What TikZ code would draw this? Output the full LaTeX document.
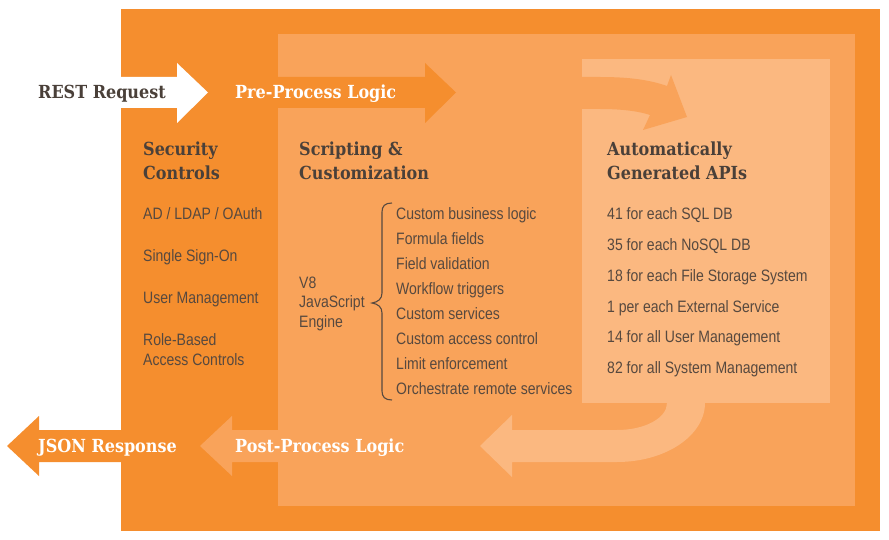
\documentclass[tikz,border=0pt]{standalone}
\usepackage{fontspec}
\setmainfont{Liberation Sans}
\newfontfamily\headfont[FakeStretch=0.89]{DejaVu Serif}
\newfontfamily\bodyfont[FakeStretch=0.85]{Liberation Sans}
\definecolor{outerc}{HTML}{F58E2E}
\definecolor{midc}{HTML}{F9A35A}
\definecolor{innerc}{HTML}{FBB880}
\definecolor{headc}{HTML}{4A4039}
\definecolor{bodyc}{HTML}{57493F}
\tikzset{
  headtxt/.style={font=\headfont\bfseries\fontsize{18}{22}\selectfont, text=headc, anchor=base west, inner sep=0pt},
  arrowtxt/.style={font=\headfont\bfseries\fontsize{18}{22}\selectfont, text=white, anchor=base west, inner sep=0pt},
  bodytxt/.style={font=\bodyfont\fontsize{16.5}{20}\selectfont, text=bodyc, anchor=base west, inner sep=0pt},
}
\begin{document}
\begin{tikzpicture}[x=1pt,y=-1pt]
\useasboundingbox (0,0) rectangle (889,540);
% boxes
\fill[outerc] (121,9) rectangle (880,531);
\fill[midc] (278,34) rectangle (855,506);
\fill[innerc] (582,59) rectangle (830,403);
% REST request arrow
\fill[white] (100,77) -- (177,77) -- (177,63) -- (208,92.5) -- (177,123) -- (177,108) -- (100,108) -- cycle;
% pre-process arrow
\fill[outerc] (270,77) -- (425,77) -- (425,63) -- (456,92.5) -- (425,123) -- (425,108) -- (270,108) -- cycle;
% top curved arrow
\fill[midc] (575,77) -- (600,77) .. controls (630,77) and (650,80) .. (667,86) -- (671,75) -- (687,117) -- (643,130) -- (650,115) .. controls (635,110) and (615,109) .. (600,109) -- (575,109) -- cycle;
% bottom curved arrow
\fill[innerc] (667,398) -- (667,403) .. controls (667,418) and (645,430) .. (617,430) -- (512,430) -- (512,415) -- (480,446) -- (512,477) -- (512,462) -- (617,462) .. controls (665.6,462) and (705,435.6) .. (705,403) -- (705,398) -- cycle;
% post-process arrow
\fill[midc] (290,430) -- (232,430) -- (232,416) -- (200,446) -- (232,476) -- (232,462) -- (290,462) -- cycle;
% JSON response arrow
\fill[outerc] (125,430) -- (39,430) -- (39,416) -- (7,446) -- (39,476) -- (39,462) -- (125,462) -- cycle;
% arrow labels
\node[headtxt] (rest) at (38,98.5) {REST Request};
\node[arrowtxt] (pre) at (235,98.5) {Pre-Process Logic};
\node[arrowtxt] (json) at (38,452) {JSON Response};
\node[arrowtxt] (post) at (235,452) {Post-Process Logic};
% headings
\node[headtxt] (sec1) at (143,156) {Security};
\node[headtxt] (sec2) at (143,180) {Controls};
\node[headtxt] (scr1) at (299,156) {Scripting \&};
\node[headtxt] (scr2) at (299,180) {Customization};
\node[headtxt] (api1) at (607,156) {Automatically};
\node[headtxt] (api2) at (607,180) {Generated APIs};
% security items
\node[bodytxt] (s1) at (143,220) {AD / LDAP / OAuth};
\node[bodytxt] (s2) at (143,261.7) {Single Sign-On};
\node[bodytxt] (s3) at (143,303) {User Management};
\node[bodytxt] (s4) at (143,345) {Role-Based};
\node[bodytxt] (s5) at (143,365) {Access Controls};
% V8 engine
\node[bodytxt] (v1) at (299,288) {V8};
\node[bodytxt] (v2) at (299,307.5) {JavaScript};
\node[bodytxt] (v3) at (299,327) {Engine};
% brace
\draw[bodyc, line width=1.1pt] (392,203) .. controls (385,203) and (382,206) .. (382,212) -- (382,293) .. controls (382,299) and (378,302) .. (372,303) .. controls (378,304) and (382,307) .. (382,313) -- (382,391) .. controls (382,397) and (385,400) .. (392,400);
% scripting list
\node[bodytxt] (c1) at (396,219.3) {Custom business logic};
\node[bodytxt] (c2) at (396,244.3) {Formula fields};
\node[bodytxt] (c3) at (396,269.2) {Field validation};
\node[bodytxt] (c4) at (396,294.2) {Workflow triggers};
\node[bodytxt] (c5) at (396,319.1) {Custom services};
\node[bodytxt] (c6) at (396,344.1) {Custom access control};
\node[bodytxt] (c7) at (396,369) {Limit enforcement};
\node[bodytxt] (c8) at (396,394) {Orchestrate remote services};
% API list
\node[bodytxt] (a1) at (607,219.3) {41 for each SQL DB};
\node[bodytxt] (a2) at (607,250.2) {35 for each NoSQL DB};
\node[bodytxt] (a3) at (607,281.1) {18 for each File Storage System};
\node[bodytxt] (a4) at (607,312) {1 per each External Service};
\node[bodytxt] (a5) at (607,342.9) {14 for all User Management};
\node[bodytxt] (a6) at (607,373.8) {82 for all System Management};
\end{tikzpicture}
\end{document}
